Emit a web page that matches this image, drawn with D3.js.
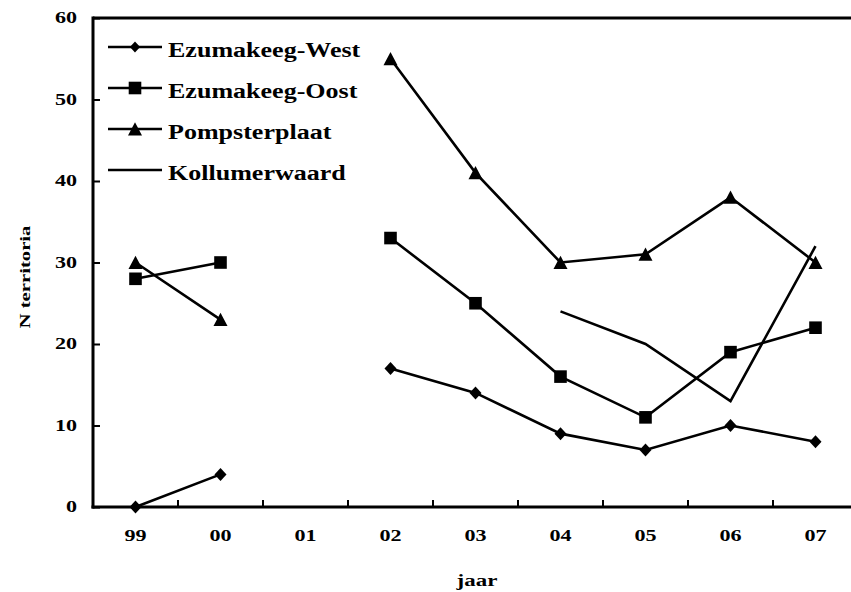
<!DOCTYPE html>
<html><head><meta charset="utf-8">
<script src="https://cdn.jsdelivr.net/npm/d3@7"></script>
<style>body{margin:0;background:#fff}svg{display:block}text{font-family:"Liberation Serif","Times New Roman",serif;font-weight:bold;fill:#000}</style>
</head><body><svg id="c" width="851" height="592"></svg>
<script>
const years = ["99","00","01","02","03","04","05","06","07"];
const west = [0,4,null,17,14,9,7,10,8];
const oost = [28,30,null,33,25,16,11,19,22];
const pomp = [30,23,null,55,41,30,31,38,30];
const kollum = [null,null,null,null,null,24,20,13,32];
const seriesNames = ["Ezumakeeg-West","Ezumakeeg-Oost","Pompsterplaat","Kollumerwaard"];
const yTicks = [0,10,20,30,40,50,60];

(function(){
const svg = d3.select("#c");
const pL = 93, pR = 858, pT = 18, pB = 507;
const x = d3.scaleBand().domain(years).range([pL, pR]);
const y = d3.scaleLinear().domain([0,60]).range([pB, pT]);

// stretched text helper: anchor at (ax,ay), horizontal scale sx
function stext(g, ax, ay, sx, size, anchor, str){
  return g.append("text").attr("transform",`translate(${ax},${ay}) scale(${sx},1)`)
    .attr("text-anchor",anchor).attr("font-size",size).text(str);
}

svg.append("line").attr("x1",pL).attr("x2",pL).attr("y1",pT-1.5).attr("y2",pB+1.5).attr("stroke","#000").attr("stroke-width",3);
svg.append("line").attr("x1",pL).attr("x2",851).attr("y1",pT).attr("y2",pT).attr("stroke","#000").attr("stroke-width",3);
svg.append("line").attr("x1",pL-1.5).attr("x2",851).attr("y1",pB).attr("y2",pB).attr("stroke","#000").attr("stroke-width",3);

const yAxis = d3.axisRight(y).tickValues(yTicks).tickSize(7).tickFormat("");
const gy = svg.append("g").attr("transform",`translate(${pL},0)`).call(yAxis);
gy.select(".domain").remove();
gy.selectAll("line").attr("stroke-width",2);
yTicks.forEach(d=>stext(svg, 77, y(d)+5, 1.38, 16, "end", d));

const bounds = years.slice(1).map(d=>x(d));
svg.selectAll(".xt").data(bounds).enter().append("line")
  .attr("x1",d=>d).attr("x2",d=>d).attr("y1",pB).attr("y2",pB-7).attr("stroke","#000").attr("stroke-width",2);
years.forEach(d=>stext(svg, x(d)+x.bandwidth()/2, 541, 1.38, 16, "middle", d));

stext(svg, 477, 586, 1.35, 17, "middle", "jaar");
svg.append("text").attr("transform","translate(30,277) rotate(-90) scale(1.38,1)")
  .attr("text-anchor","middle").attr("font-size",15).text("N territoria");

const diamond = {draw(ctx){ctx.moveTo(0,-6.5);ctx.lineTo(6,0);ctx.lineTo(0,6.5);ctx.lineTo(-6,0);ctx.closePath();}};
const square = {draw(ctx){ctx.moveTo(-6.3,-6.3);ctx.lineTo(6.3,-6.3);ctx.lineTo(6.3,6.3);ctx.lineTo(-6.3,6.3);ctx.closePath();}};
const tri = {draw(ctx){ctx.moveTo(0,-6.8);ctx.lineTo(7,6.5);ctx.lineTo(-7,6.5);ctx.closePath();}};

const cx = i => x(years[i]) + x.bandwidth()/2;
const line = d3.line().defined(d=>d.v!==null).x(d=>cx(d.i)).y(d=>y(d.v));
const all = [west, oost, pomp, kollum];
const syms = [diamond, square, tri, null];
all.forEach((s,k)=>{
  const pts = s.map((v,i)=>({v,i}));
  svg.append("path").attr("d",line(pts)).attr("fill","none").attr("stroke","#000").attr("stroke-width",2.6);
  if (syms[k]) {
    svg.selectAll(null).data(pts.filter(d=>d.v!==null)).enter().append("path")
      .attr("d",d3.symbol().type(syms[k]))
      .attr("transform",d=>`translate(${cx(d.i)},${y(d.v)})`).attr("fill","#000");
  }
});

const ly = [47, 88, 129, 170];
seriesNames.forEach((n,k)=>{
  svg.append("line").attr("x1",108).attr("x2",162).attr("y1",ly[k]).attr("y2",ly[k]).attr("stroke","#000").attr("stroke-width",2.6);
  if (syms[k]) svg.append("path").attr("d",d3.symbol().type(syms[k])).attr("transform",`translate(135,${ly[k]}) scale(${k===0?0.85:1})`);
  stext(svg, 168, ly[k]+10, 1.24, 21, "start", n);
});
})();
</script></body></html>
